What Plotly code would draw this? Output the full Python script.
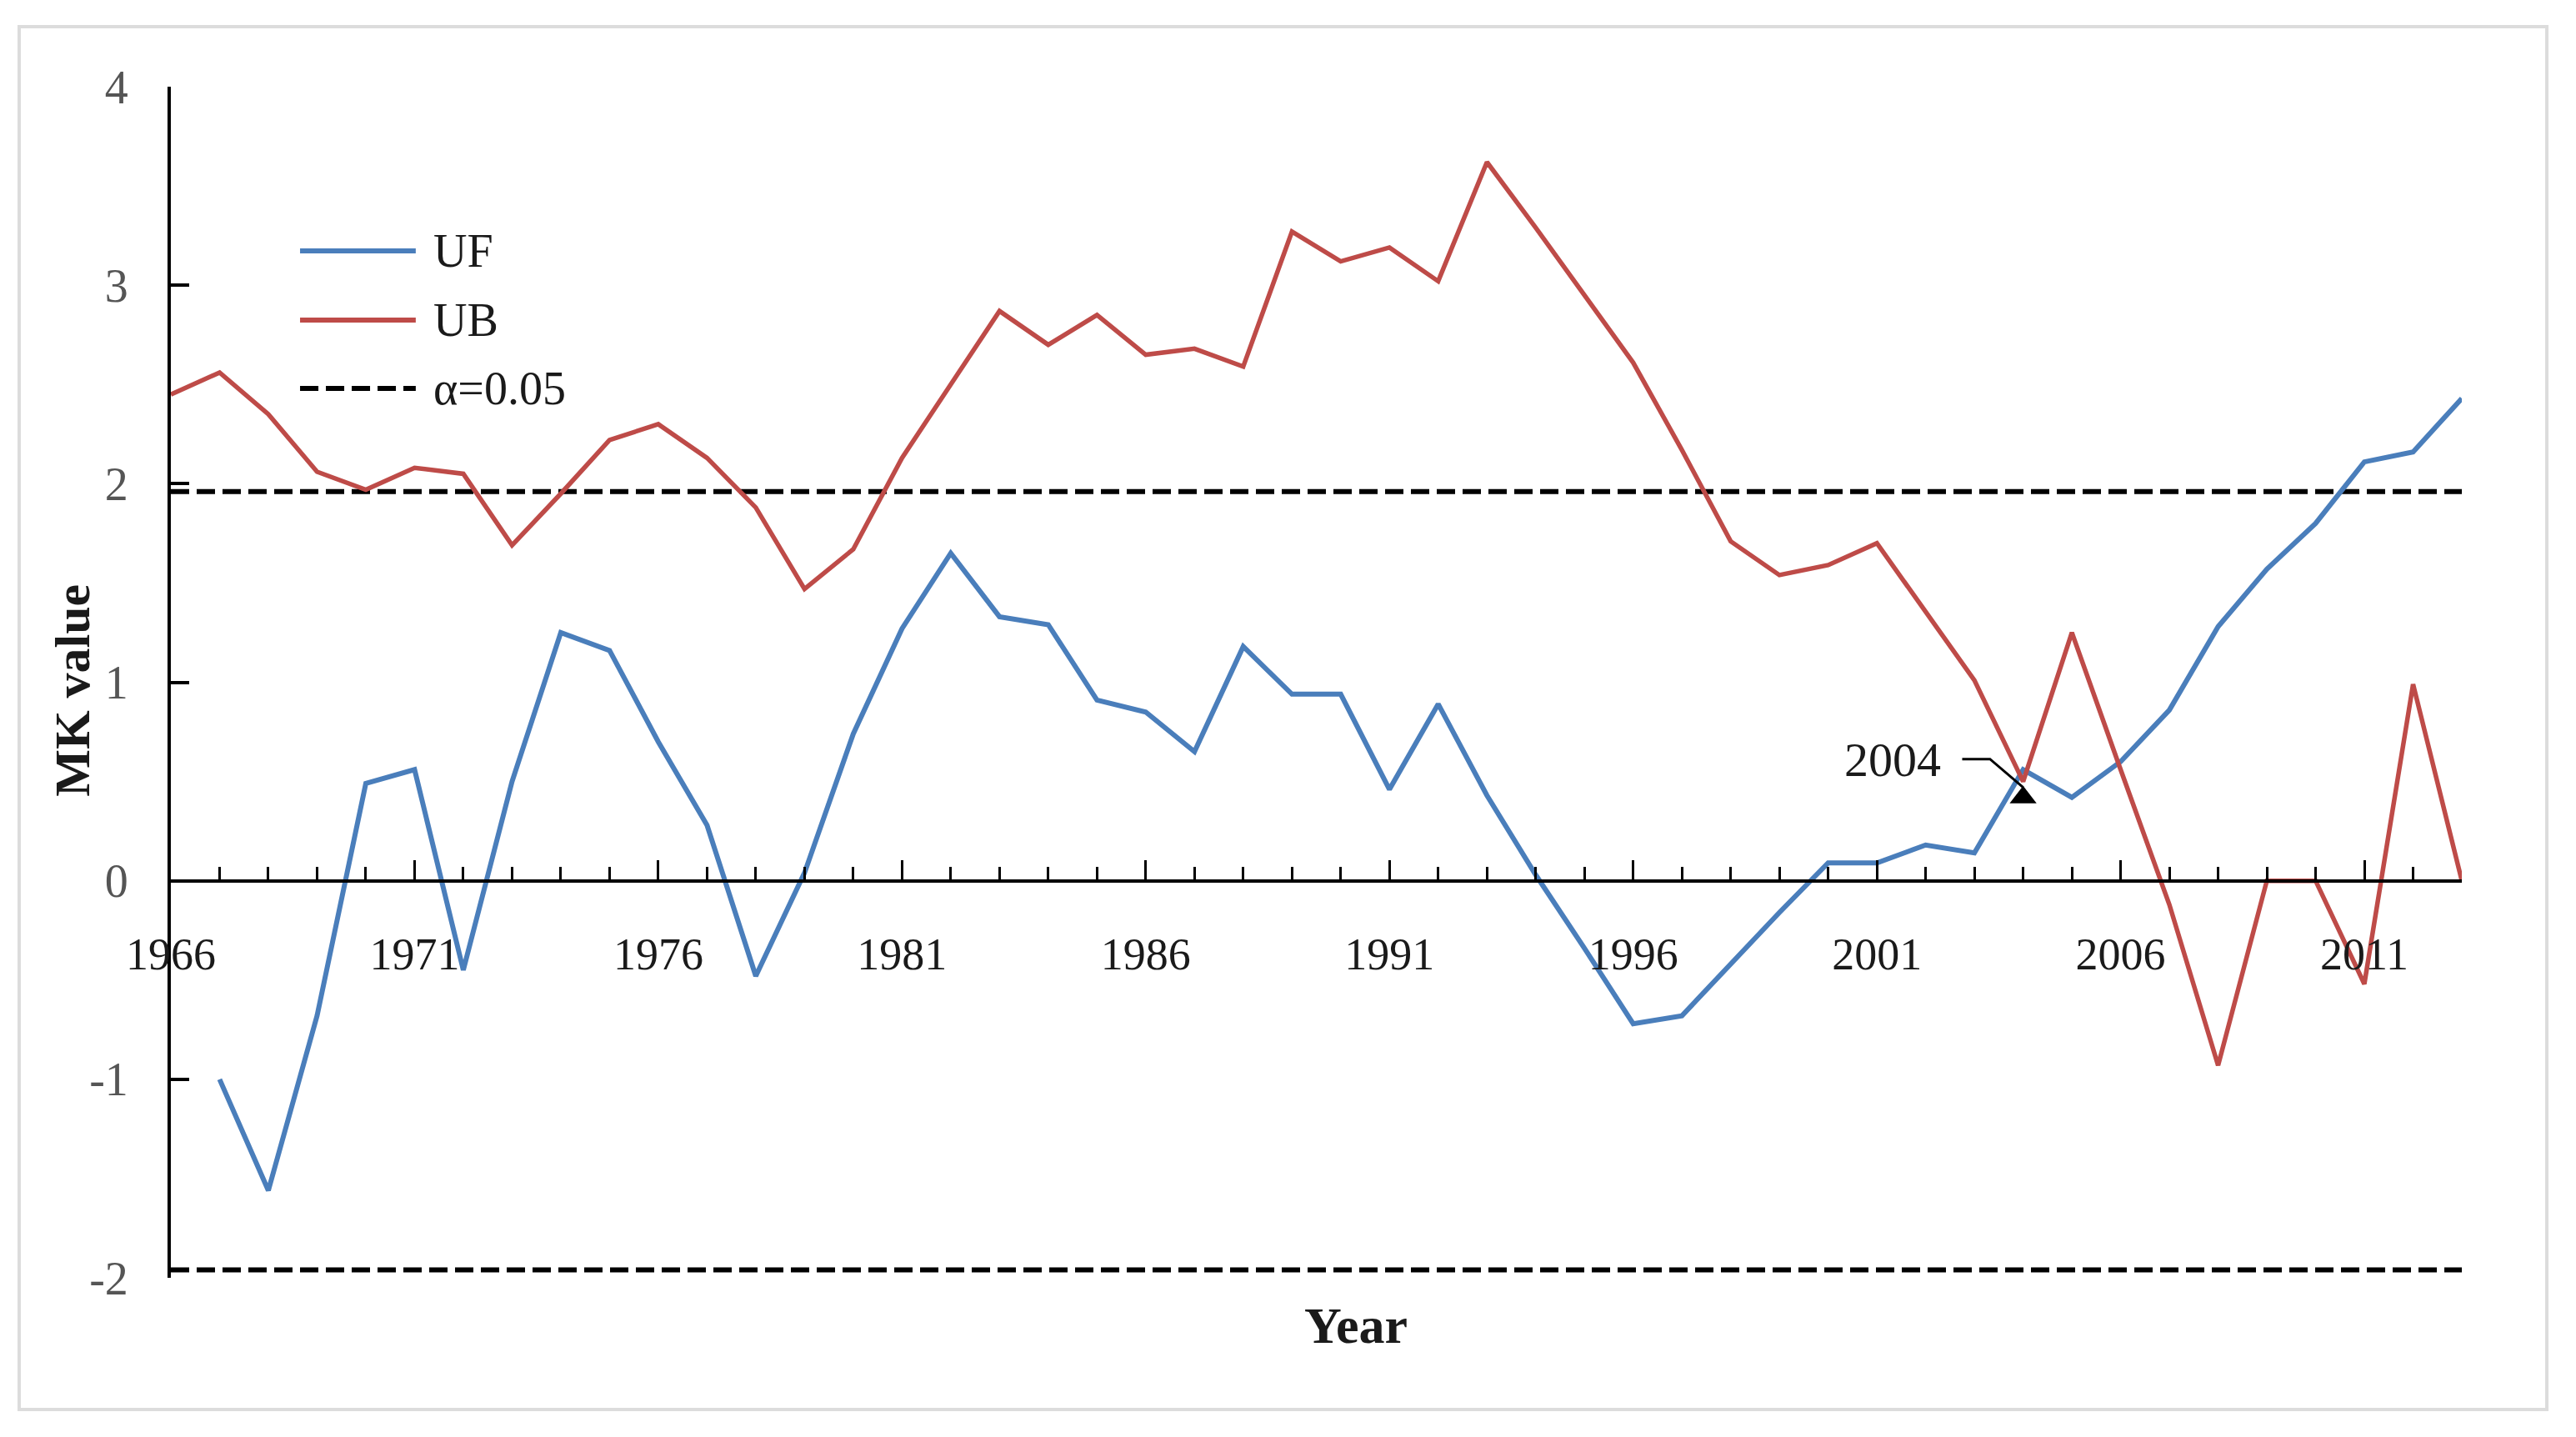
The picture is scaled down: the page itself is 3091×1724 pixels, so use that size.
import plotly.graph_objects as go

# ---------------- data ----------------
years = list(range(1966, 2014))

uf_years = list(range(1967, 2014))
uf_values = [-1.00, -1.56, -0.68, 0.49, 0.56, -0.45, 0.50, 1.25, 1.16, 0.70, 0.28, -0.48,
             0.04, 0.74, 1.27, 1.65, 1.33, 1.29, 0.91, 0.85, 0.65, 1.18, 0.94, 0.94,
             0.46, 0.89, 0.43, 0.03, -0.34, -0.72, -0.68, -0.42, -0.16, 0.09, 0.09, 0.18,
             0.14, 0.56, 0.42, 0.60, 0.86, 1.28, 1.57, 1.80, 2.11, 2.16, 2.43]

ub_years = list(range(1966, 2014))
ub_values = [2.45, 2.56, 2.35, 2.06, 1.97, 2.08, 2.05, 1.69, 1.95, 2.22, 2.30, 2.13,
             1.88, 1.47, 1.67, 2.13, 2.50, 2.87, 2.70, 2.85, 2.65, 2.68, 2.59, 3.27,
             3.12, 3.19, 3.02, 3.62, 3.29, 2.95, 2.61, 2.17, 1.71, 1.54, 1.59, 1.70,
             1.35, 1.01, 0.50, 1.25, 0.56, -0.12, -0.93, 0.00, 0.00, -0.52, 0.99, 0.00]

alpha_level = 1.96
alpha_x = [1966, 2013]

x_tickvals = [1966, 1971, 1976, 1981, 1986, 1991, 1996, 2001, 2006, 2011]
x_ticktext = ["1966", "1971", "1976", "1981", "1986", "1991", "1996", "2001", "2006", "2011"]
y_tickvals = [-2, -1, 0, 1, 2, 3, 4]
y_ticktext = ["-2", "-1", "0", "1", "2", "3", "4"]

cross_year = 2004
cross_value = 0.42
cross_label = "2004"

# ---------------- style ----------------
BLUE = "#4a7ebb"
RED = "#be4b48"
SERIF = "Liberation Serif"

fig = go.Figure()

fig.add_trace(go.Scatter(x=alpha_x, y=[alpha_level, alpha_level], mode="lines",
                         line=dict(color="black", width=6, dash="22px,9px"),
                         showlegend=False, hoverinfo="skip"))
fig.add_trace(go.Scatter(x=alpha_x, y=[-alpha_level, -alpha_level], mode="lines",
                         line=dict(color="black", width=6, dash="22px,9px"),
                         showlegend=False, hoverinfo="skip"))
fig.add_trace(go.Scatter(x=uf_years, y=uf_values, mode="lines", name="UF",
                         line=dict(color=BLUE, width=6), showlegend=False))
fig.add_trace(go.Scatter(x=ub_years, y=ub_values, mode="lines", name="UB",
                         line=dict(color=RED, width=5.5), showlegend=False))
fig.add_trace(go.Scatter(x=[cross_year], y=[cross_value], mode="markers",
                         marker=dict(symbol="triangle-up", size=28, color="black"),
                         showlegend=False, cliponaxis=False))

# ---------------- manual legend ----------------
leg_x0, leg_x1, leg_tx = 0.0564, 0.1069, 0.1139
leg_rows = [("UF", 0.8621, dict(color=BLUE, width=6)),
            ("UB", 0.8040, dict(color=RED, width=6)),
            ("α=0.05", 0.7467, dict(color="black", width=6, dash="22px,9px"))]
shapes = []
annotations = []
for label, yy, ln in leg_rows:
    shapes.append(dict(type="line", xref="paper", yref="paper",
                       x0=leg_x0, x1=leg_x1, y0=yy, y1=yy, line=ln))
    annotations.append(dict(xref="paper", yref="paper", x=leg_tx, y=yy, text=label,
                            showarrow=False, xanchor="left", yanchor="middle",
                            font=dict(family=SERIF, size=56, color="#1a1a1a")))

# outer border
shapes.append(dict(type="rect", xref="paper", yref="paper",
                   x0=-0.0662, x1=1.0371, y0=-0.1106, y1=1.0504,
                   line=dict(color="#dcdcdc", width=4), layer="below"))

# crossing-point connector
shapes.append(dict(type="path", xref="x", yref="y",
                   path="M 2002.75,0.613 L 2003.32,0.613 L 2004.0,0.47",
                   line=dict(color="black", width=3)))
annotations.append(dict(xref="x", yref="y", x=2001.32, y=0.609, text=cross_label,
                        showarrow=False, xanchor="center", yanchor="middle",
                        font=dict(family=SERIF, size=58, color="#1a1a1a")))

# axis titles
annotations.append(dict(xref="paper", yref="paper", x=0.5173, y=-0.0399, text="<b>Year</b>",
                        showarrow=False, xanchor="center", yanchor="middle",
                        font=dict(family=SERIF, size=62, color="#1a1a1a")))
annotations.append(dict(xref="paper", yref="paper", x=-0.0430, y=0.4934, text="<b>MK value</b>",
                        showarrow=False, xanchor="center", yanchor="middle", textangle=-90,
                        font=dict(family=SERIF, size=60, color="#1a1a1a")))

fig.update_layout(
    width=3091, height=1724,
    margin=dict(l=205, r=137, t=104, b=191),
    paper_bgcolor="white", plot_bgcolor="white",
    showlegend=False,
    shapes=shapes, annotations=annotations,
    xaxis=dict(range=[1966, 2013], anchor="free", position=1/3,
               showline=True, linecolor="black", linewidth=4,
               showgrid=False, zeroline=False,
               tickmode="array", tickvals=x_tickvals, ticktext=x_ticktext,
               ticks="inside", ticklen=23, tickwidth=3, tickcolor="black",
               ticklabelstandoff=40,
               tickfont=dict(family=SERIF, size=54, color="#1a1a1a"),
               minor=dict(tickmode="array", tickvals=years, ticks="inside",
                          ticklen=15, tickwidth=3, tickcolor="black", showgrid=False)),
    yaxis=dict(range=[-2, 4], showline=True, linecolor="black", linewidth=4,
               showgrid=False, zeroline=False,
               tickmode="array", tickvals=y_tickvals, ticktext=y_ticktext,
               ticks="inside", ticklen=22, tickwidth=4, tickcolor="black",
               ticklabelstandoff=36,
               tickfont=dict(family=SERIF, size=56, color="#555555")),
)

fig.write_html("out.html", config={"displayModeBar": False},
               post_script="document.body.style.margin='0';document.body.style.overflow='hidden';")
